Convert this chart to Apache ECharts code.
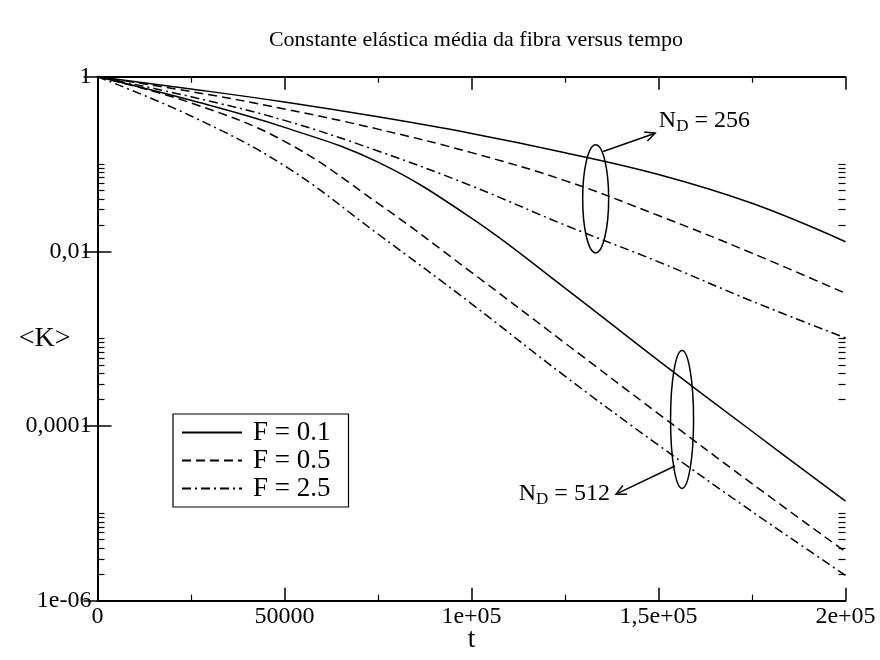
<!DOCTYPE html>
<html><head><meta charset="utf-8">
<script src="https://cdn.jsdelivr.net/npm/echarts@6/dist/echarts.min.js"></script>
<style>html,body{margin:0;padding:0;background:#fff}#c{width:880px;height:660px}</style>
</head><body><div id="c"></div>
<script>
// ---- data ----
const tValues = [0, 25000, 50000, 75000, 100000, 125000, 150000, 175000, 200000];
const seriesNames = ['F = 0.1', 'F = 0.5', 'F = 2.5'];
// N_D = 256
const k256_F01 = [1, 0.724, 0.513, 0.347, 0.224, 0.135, 0.0759, 0.0355, 0.0129];
const k256_F05 = [1, 0.676, 0.427, 0.251, 0.135, 0.0646, 0.0257, 0.00955, 0.00331];
const k256_F25 = [1, 0.589, 0.316, 0.141, 0.0562, 0.0200, 0.00759, 0.00269, 0.00102];
// N_D = 512
const k512_F01 = [1, 0.537, 0.263, 0.105, 0.0240, 0.00380, 5.62e-4, 8.71e-5, 1.38e-5];
const k512_F05 = [1, 0.501, 0.182, 0.0355, 0.00575, 8.91e-4, 1.38e-4, 2.19e-5, 3.63e-6];
const k512_F25 = [1, 0.355, 0.0955, 0.0158, 0.00251, 3.72e-4, 6.03e-5, 1.05e-5, 1.95e-6];
const xTickLabels = {0: '0', 50000: '50000', 100000: '1e+05', 150000: '1,5e+05', 200000: '2e+05'};
const yTickLabels = {'0': '1', '-2': '0,01', '-4': '0,0001', '-6': '1e-06'};
const yMinorTicks = [];
[-2, -4, -6].forEach(function (e) { for (let k = 2; k <= 10; k++) yMinorTicks.push(k * Math.pow(10, e)); });

const FONT = 'Liberation Serif';
const lineTypes = ['solid', [9, 5], [9, 4, 2, 4]];

function pairs(arr) { return tValues.map(function (t, i) { return [t, arr[i]]; }); }

const chart = echarts.init(document.getElementById('c'), null, {renderer: 'canvas'});

const groups = [[k256_F01, k256_F05, k256_F25], [k512_F01, k512_F05, k512_F25]];
const series = [];
groups.forEach(function (g) {
  g.forEach(function (arr, i) {
    series.push({
      type: 'line', name: seriesNames[i], data: pairs(arr), showSymbol: false, symbol: 'none',
      smooth: 0.4,
      lineStyle: {color: '#000', width: 1.5, type: lineTypes[i]},
      itemStyle: {color: '#000'}, z: 3, animation: false
    });
  });
});

const yCommon = {type: 'log', logBase: 10, min: 1e-6, max: 1, splitLine: {show: false}};
const option = {
  animation: false,
  backgroundColor: '#fff',
  title: {
    text: 'Constante elástica média da fibra versus tempo', left: 471, top: 24, textAlign: 'center',
    textStyle: {fontFamily: FONT, fontSize: 22, fontWeight: 'normal', color: '#000'}
  },
  legend: {
    orient: 'vertical', left: 173, top: 414, width: 176, data: seriesNames,
    itemWidth: 60, itemHeight: 14, itemGap: 1,
    padding: [5, 18, 5, 8], borderColor: '#000', borderWidth: 1.2, backgroundColor: '#fff',
    itemStyle: {opacity: 0, borderWidth: 0},
    textStyle: {fontFamily: FONT, fontSize: 27, color: '#000', padding: [0, 0, 0, 6]},
    selectedMode: false
  },
  grid: {left: 97.5, right: 34.5, top: 76.7, bottom: 59.3, show: false, outerBoundsMode: 'none', containLabel: false},
  xAxis: [{
    type: 'value', min: 0, max: 200000, interval: 50000, position: 'bottom',
    name: 't', nameLocation: 'middle', nameGap: 26, nameMoveOverlap: false,
    nameTextStyle: {fontFamily: FONT, fontSize: 27, color: '#000'},
    axisLine: {lineStyle: {color: '#000', width: 2}},
    axisTick: {inside: true, length: 13, lineStyle: {color: '#000', width: 1.5}},
    minorTick: {show: true, splitNumber: 2, length: 6, lineStyle: {color: '#000', width: 1.2}},
    axisLabel: {fontFamily: FONT, fontSize: 24, color: '#000', margin: 4,
      formatter: function (v) { return xTickLabels[Math.round(v)] || ''; }},
    splitLine: {show: false}
  }, {
    type: 'value', min: 0, max: 200000, interval: 50000, position: 'top',
    axisLine: {lineStyle: {color: '#000', width: 2}},
    axisTick: {inside: true, length: 13, lineStyle: {color: '#000', width: 1.5}},
    minorTick: {show: true, splitNumber: 2, length: 6, lineStyle: {color: '#000', width: 1.2}},
    axisLabel: {show: false}, splitLine: {show: false}
  }],
  yAxis: [Object.assign({}, yCommon, {
    position: 'left', interval: 2,
    name: '<K>', nameLocation: 'middle', nameGap: 27, nameRotate: 0, nameMoveOverlap: false,
    nameTextStyle: {fontFamily: FONT, fontSize: 28, color: '#000'},
    axisLine: {show: true, lineStyle: {color: '#000', width: 2}},
    axisTick: {show: true, inside: true, length: 14, lineStyle: {color: '#000', width: 1.5}},
    axisLabel: {fontFamily: FONT, fontSize: 24, color: '#000', margin: 6,
      formatter: function (v) { return yTickLabels[String(Math.round(Math.log10(v)))] || ''; }}
  }), Object.assign({}, yCommon, {
    position: 'right', interval: 2,
    axisLine: {show: true, lineStyle: {color: '#000', width: 2}},
    axisTick: {show: true, inside: true, length: 14, lineStyle: {color: '#000', width: 1.5}},
    axisLabel: {show: false}
  }), Object.assign({}, yCommon, {
    position: 'left', interval: 2,
    axisLine: {show: false},
    axisTick: {show: true, inside: true, length: 7, customValues: yMinorTicks, lineStyle: {color: '#000', width: 1.2}},
    axisLabel: {show: false}
  }), Object.assign({}, yCommon, {
    position: 'right', interval: 2,
    axisLine: {show: false},
    axisTick: {show: true, inside: true, length: 7, customValues: yMinorTicks, lineStyle: {color: '#000', width: 1.2}},
    axisLabel: {show: false}
  })],
  series: series
};
chart.setOption(option);

// ---- annotations (placed through the chart's own scales) ----
function px(t, k) { return chart.convertToPixel({xAxisIndex: 0, yAxisIndex: 0}, [t, k]); }
function arrow(from, to) {
  const a = Math.atan2(to[1] - from[1], to[0] - from[0]);
  const L = 11, W = 0.45;
  return [
    {type: 'line', shape: {x1: from[0], y1: from[1], x2: to[0], y2: to[1]}, style: {stroke: '#000', lineWidth: 1.5}},
    {type: 'polyline', shape: {points: [
      [to[0] - L * Math.cos(a - W), to[1] - L * Math.sin(a - W)], to,
      [to[0] - L * Math.cos(a + W), to[1] - L * Math.sin(a + W)]]},
      style: {stroke: '#000', lineWidth: 1.5, fill: null}}
  ];
}
const e1 = px(133200, 0.04), e2 = px(156300, 1.19e-4);
const a1 = arrow(px(135200, 0.139), px(149100, 0.2255));
const a2 = arrow(px(154400, 3.49e-5), px(138650, 1.66e-5));
const t1 = px(150100, 0.312), t2 = px(137000, 1.7e-5);
const richStyle = {fontFamily: FONT, fontSize: 24, fill: '#000',
  rich: {sub: {fontFamily: FONT, fontSize: 17, verticalAlign: 'bottom', padding: [12, 0, 0, 0]}}};
const graphics = [
  {type: 'ellipse', shape: {cx: e1[0], cy: e1[1], rx: 13, ry: 54}, style: {stroke: '#000', lineWidth: 1.5, fill: null}, z: 10},
  {type: 'ellipse', shape: {cx: e2[0], cy: e2[1], rx: 11.5, ry: 69}, style: {stroke: '#000', lineWidth: 1.5, fill: null}, z: 10},
  {type: 'text', x: t1[0], y: t1[1], style: Object.assign({text: 'N{sub|D} = 256', align: 'left', verticalAlign: 'middle'}, richStyle), z: 10},
  {type: 'text', x: t2[0], y: t2[1], style: Object.assign({text: 'N{sub|D} = 512', align: 'right', verticalAlign: 'middle'}, richStyle), z: 10}
].concat(a1, a2);
chart.setOption({graphic: graphics});
</script></body></html>
